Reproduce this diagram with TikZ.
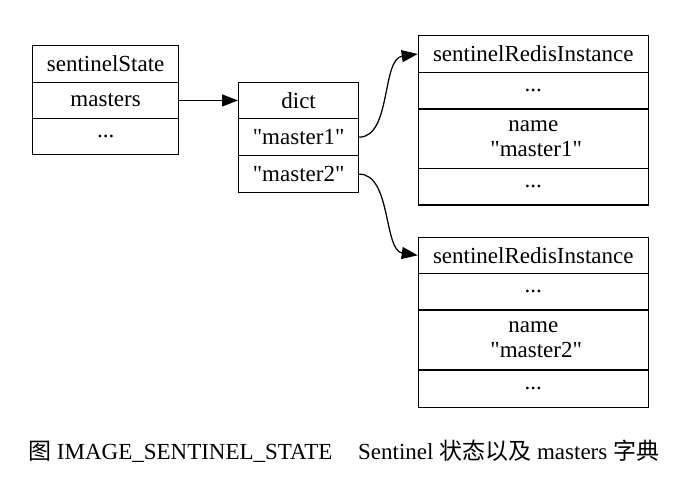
\documentclass[tikz,border=0pt]{standalone}
\usepackage{fontspec}
\setmainfont{Liberation Serif}
\newfontfamily\plainserif{Liberation Serif}
\newfontfamily\cjk{Noto Sans CJK SC}
\usetikzlibrary{arrows.meta}
\newcommand\dq{{\plainserif"}}
\begin{document}
\begin{tikzpicture}[x=1pt,y=1pt,
  rowbox/.style={draw=black, line width=1.25pt, anchor=north west, inner sep=0pt,
    font=\plainserif\fontsize{23}{25}\selectfont, align=center},
  link/.style={line width=1.25pt, -{Triangle[length=16pt,width=12pt]}},
  captext/.style={anchor=base west, inner sep=0pt, font=\fontsize{23}{26}\selectfont}]
\fill[white] (0,0) rectangle (683,478);
\useasboundingbox (0,0) rectangle (683,478);
% sentinelState
\node[rowbox, minimum width=146pt, minimum height=36.7pt] (ss1) at (32,433) {sentinelState};
\node[rowbox, minimum width=146pt, minimum height=36.3pt] (ss2) at (32,396.3) {masters};
\node[rowbox, minimum width=146pt, minimum height=36pt] (ss3) at (32,360) {...};
% dict
\node[rowbox, minimum width=120pt, minimum height=36.3pt] (d1) at (238,396.3) {dict};
\node[rowbox, minimum width=120pt, minimum height=37pt] (d2) at (238,360) {\dq master1\dq};
\node[rowbox, minimum width=120pt, minimum height=37pt] (d3) at (238,323) {\dq master2\dq};
% instance 1
\node[rowbox, minimum width=230pt, minimum height=36.7pt] (a1) at (417.7,443) {sentinelRedisInstance};
\node[rowbox, minimum width=230pt, minimum height=36.6pt] (a2) at (417.7,406.3) {...};
\node[rowbox, minimum width=230pt, minimum height=59.4pt] (a3) at (417.7,369.7) {name~\\~\dq master1\dq};
\node[rowbox, minimum width=230pt, minimum height=36.6pt] (a4) at (417.7,310.3) {...};
% instance 2
\node[rowbox, minimum width=230pt, minimum height=36pt] (b1) at (417.7,241.3) {sentinelRedisInstance};
\node[rowbox, minimum width=230pt, minimum height=36.6pt] (b2) at (417.7,205.3) {...};
\node[rowbox, minimum width=230pt, minimum height=60pt] (b3) at (417.7,168.7) {name~\\~\dq master2\dq};
\node[rowbox, minimum width=230pt, minimum height=37.4pt] (b4) at (417.7,108.7) {...};
% connectors
\draw[link] (ss2.east) -- (d1.west);
\draw[link] (d2.east) .. controls +(32,0) and +(-36,-5) .. (a1.west);
\draw[link] (d3.east) .. controls +(32,0) and +(-34,5) .. (b1.west);
% caption
\node[captext] (cap1) at (28,18) {{\cjk 图} IMAGE\_SENTINEL\_STATE};
\node[captext] (cap2) at (358,18) {Sentinel {\cjk 状态以及} masters {\cjk 字典}};
\end{tikzpicture}
\end{document}
